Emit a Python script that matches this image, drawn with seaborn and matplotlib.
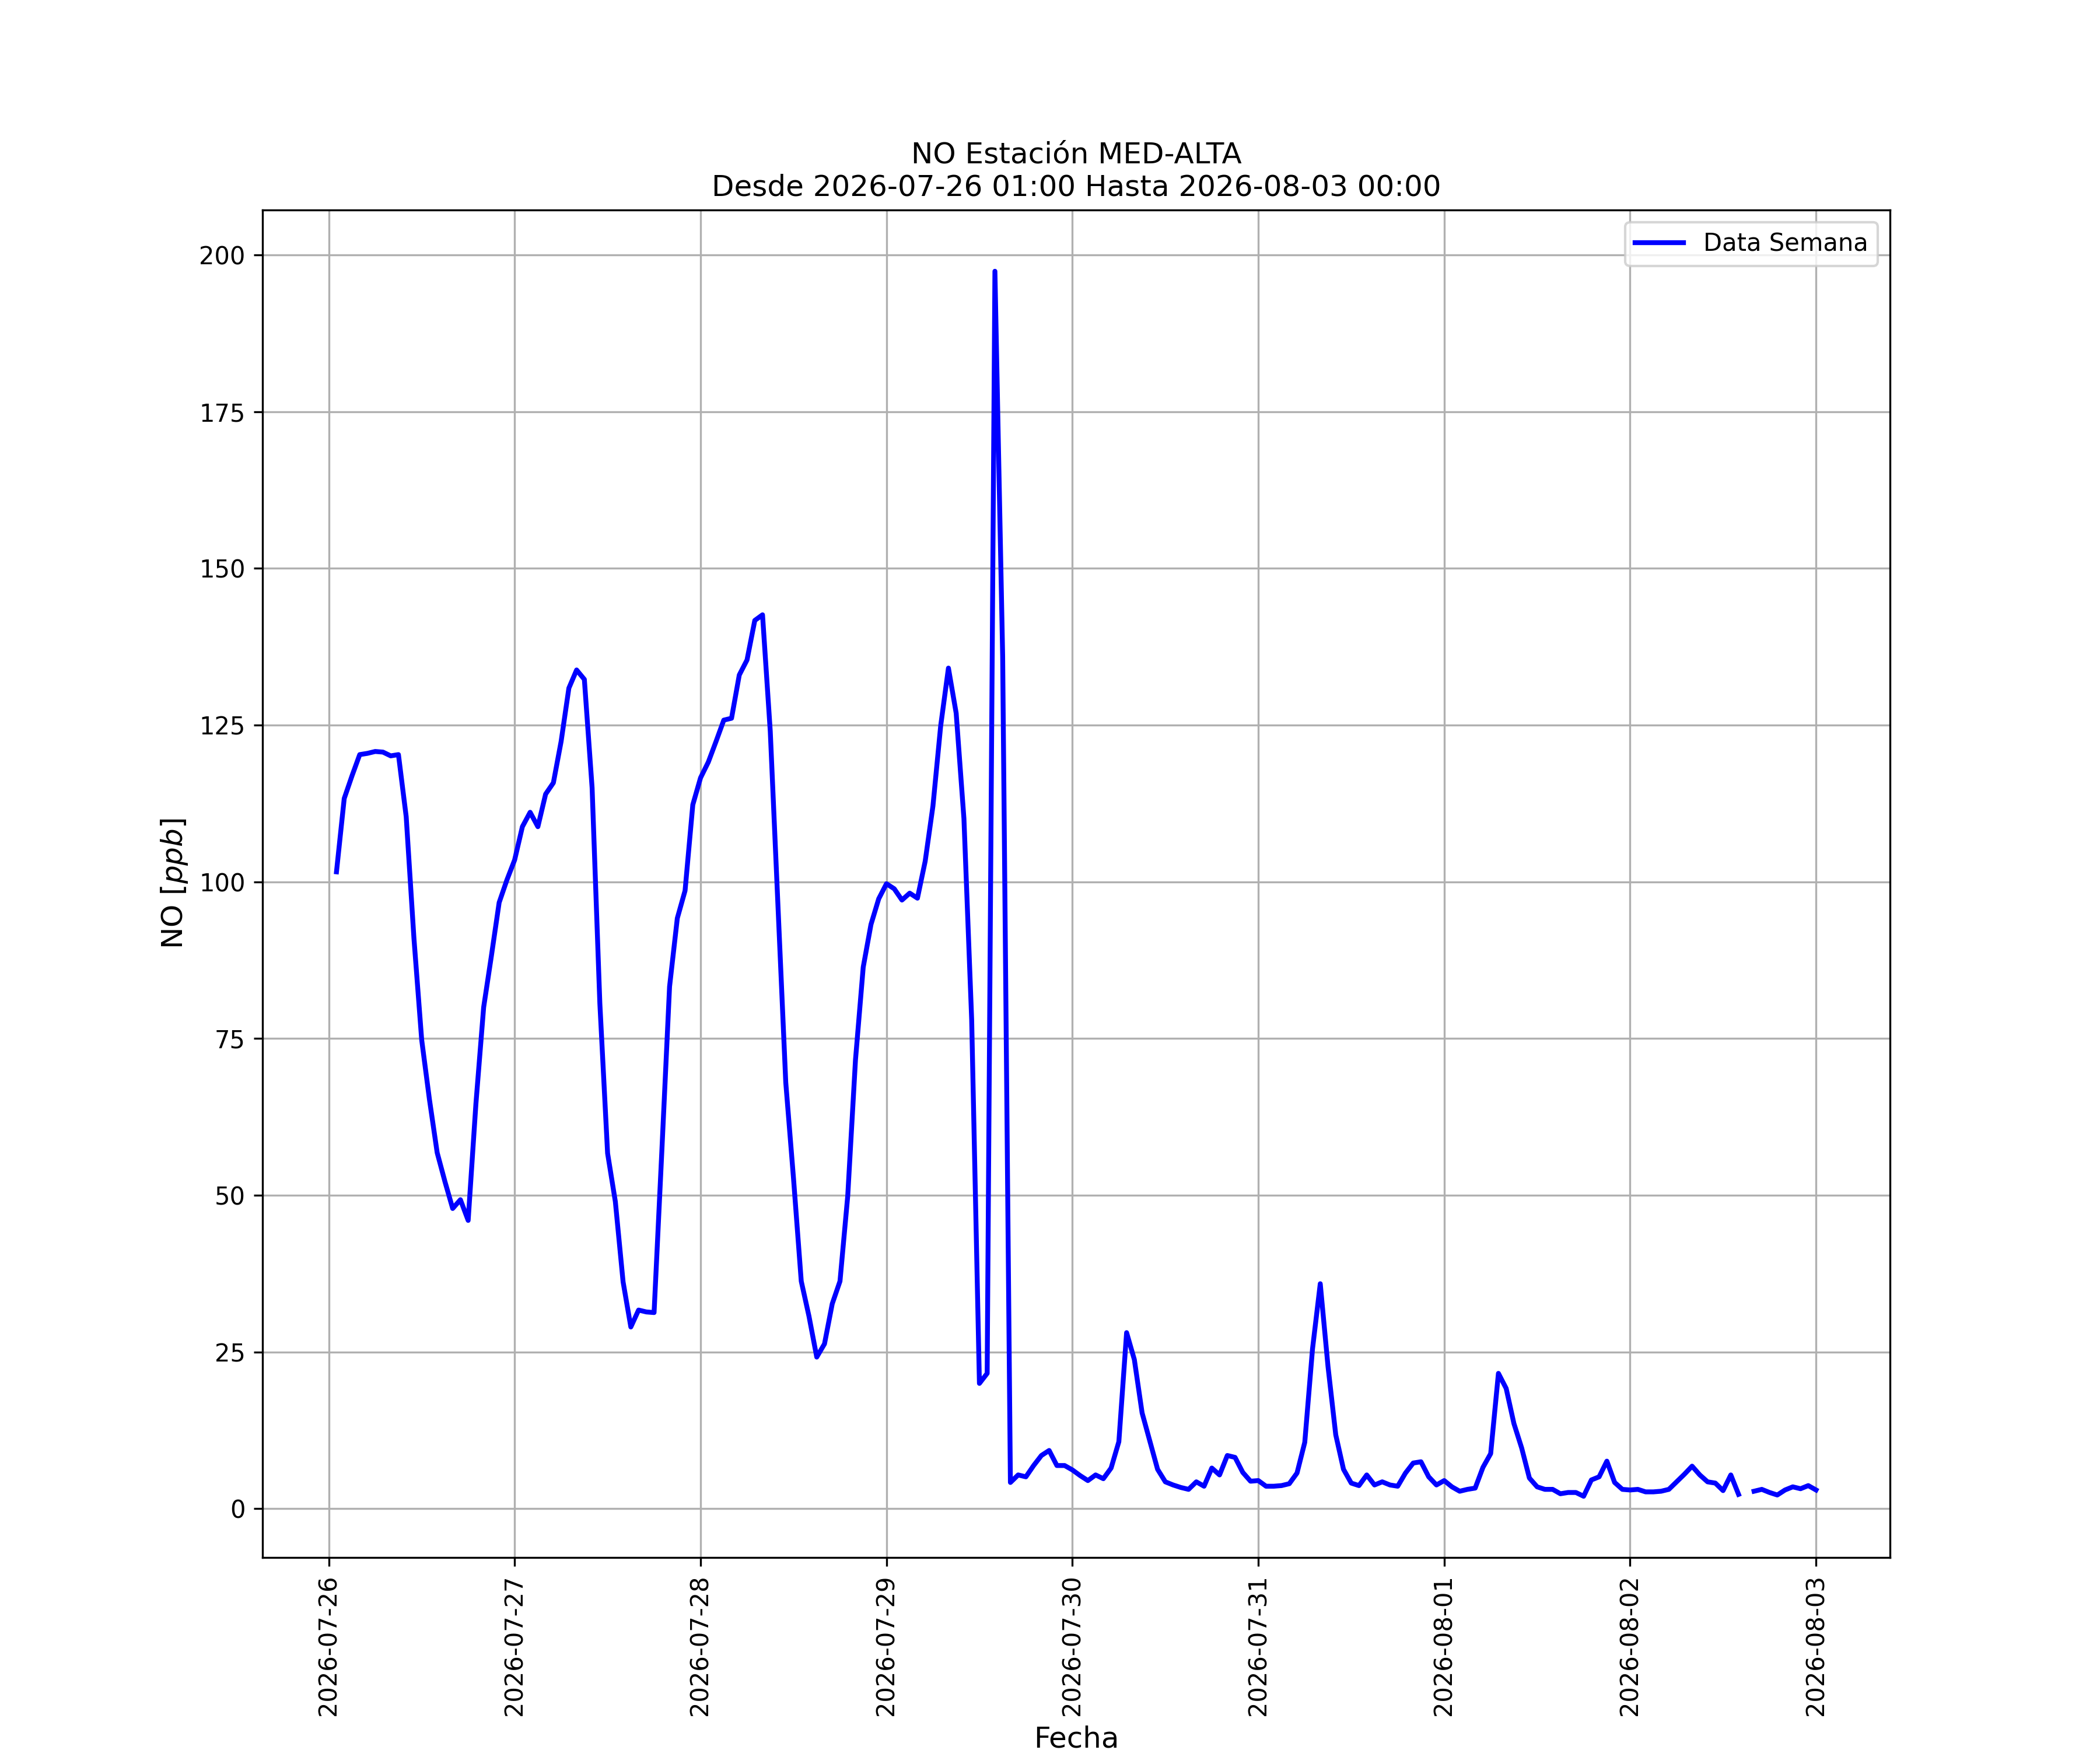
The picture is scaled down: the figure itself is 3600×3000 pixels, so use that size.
import numpy as np
import pandas as pd
import matplotlib
matplotlib.use("Agg")
import matplotlib.pyplot as plt
import matplotlib.dates as mdates
import seaborn as sns

# Concentración horaria de NO (ppb), 2026-07-26 01:00 .. 2026-08-03 00:00
dia_1 = [101.6, 113.3, 116.9, 120.3, 120.5, 120.8, 120.7, 120.1, 120.3, 110.4, 91.0, 74.8,
         65.3, 56.8, 52.2, 47.9, 49.3, 46.0, 64.6, 80.0, 88.2, 96.7, 100.3, 103.5]
dia_2 = [108.8, 111.1, 108.8, 114.0, 115.8, 122.4, 130.9, 133.8, 132.3, 115.0, 80.6, 56.7,
         49.0, 36.2, 29.0, 31.7, 31.4, 31.3, 57.0, 83.3, 94.2, 98.6, 112.3, 116.6]
dia_3 = [119.1, 122.4, 125.8, 126.1, 133.0, 135.4, 141.7, 142.6, 124.0, 96.0, 68.0, 52.7,
         36.3, 30.7, 24.2, 26.3, 32.7, 36.3, 49.9, 71.6, 86.4, 93.2, 97.3, 99.7]
dia_4 = [98.9, 97.1, 98.2, 97.4, 103.3, 112.1, 124.9, 134.1, 126.9, 110.1, 78.0, 20.0,
         21.6, 197.4, 136.0, 4.2, 5.4, 5.1, 6.9, 8.5, 9.3, 6.9, 6.9, 6.2]
dia_5 = [5.3, 4.5, 5.4, 4.8, 6.5, 10.7, 28.1, 23.8, 15.3, 10.8, 6.3, 4.3,
         3.8, 3.4, 3.1, 4.3, 3.6, 6.5, 5.4, 8.5, 8.2, 5.8, 4.4, 4.5]
dia_6 = [3.6, 3.6, 3.7, 4.0, 5.7, 10.6, 25.5, 35.9, 22.7, 11.8, 6.3, 4.1,
         3.7, 5.4, 3.8, 4.3, 3.8, 3.6, 5.7, 7.3, 7.5, 5.1, 3.8, 4.5]
dia_7 = [3.5, 2.8, 3.1, 3.3, 6.6, 8.8, 21.6, 19.2, 13.6, 9.7, 4.9, 3.5,
         3.1, 3.1, 2.4, 2.6, 2.6, 2.0, 4.6, 5.1, 7.6, 4.2, 3.1, 3.0]
dia_8 = [3.1, 2.7, 2.7, 2.8, 3.1, 4.3, 5.5, 6.8, 5.4, 4.3, 4.1, 2.9,
         5.4, 2.3, np.nan, 2.8, 3.1, 2.6, 2.2, 3.0, 3.5, 3.2, 3.7, 3.0]

inicio = "2026-07-26 01:00"
fin = "2026-08-03 00:00"
estacion = "MED-ALTA"

valores = dia_1 + dia_2 + dia_3 + dia_4 + dia_5 + dia_6 + dia_7 + dia_8
fechas = pd.date_range(inicio, fin, freq="h")

df = pd.DataFrame({"Fecha": fechas, "NO": valores})
# tramos separados donde falta el dato, para que la linea quede cortada
df["tramo"] = df["NO"].isna().cumsum()
df = df.dropna()

fig, ax = plt.subplots(figsize=(12, 10), dpi=300)

sns.lineplot(data=df, x="Fecha", y="NO", units="tramo", estimator=None,
             color="blue", linewidth=2, label="Data Semana", ax=ax)

ax.grid(True)
ax.xaxis.set_major_locator(mdates.DayLocator())
ax.xaxis.set_major_formatter(mdates.DateFormatter("%Y-%m-%d"))
plt.setp(ax.get_xticklabels(), rotation=90)

ax.set_title("NO Estación " + estacion + "\nDesde " + inicio + " Hasta " + fin, fontsize=12)
ax.set_xlabel("Fecha", fontsize=12)
ax.set_ylabel("NO [$ppb$]", fontsize=12)

handles, labels = ax.get_legend_handles_labels()
ax.legend(handles[:1], labels[:1], loc="upper right", fontsize=10)

fig.savefig("out.png", dpi=300)
